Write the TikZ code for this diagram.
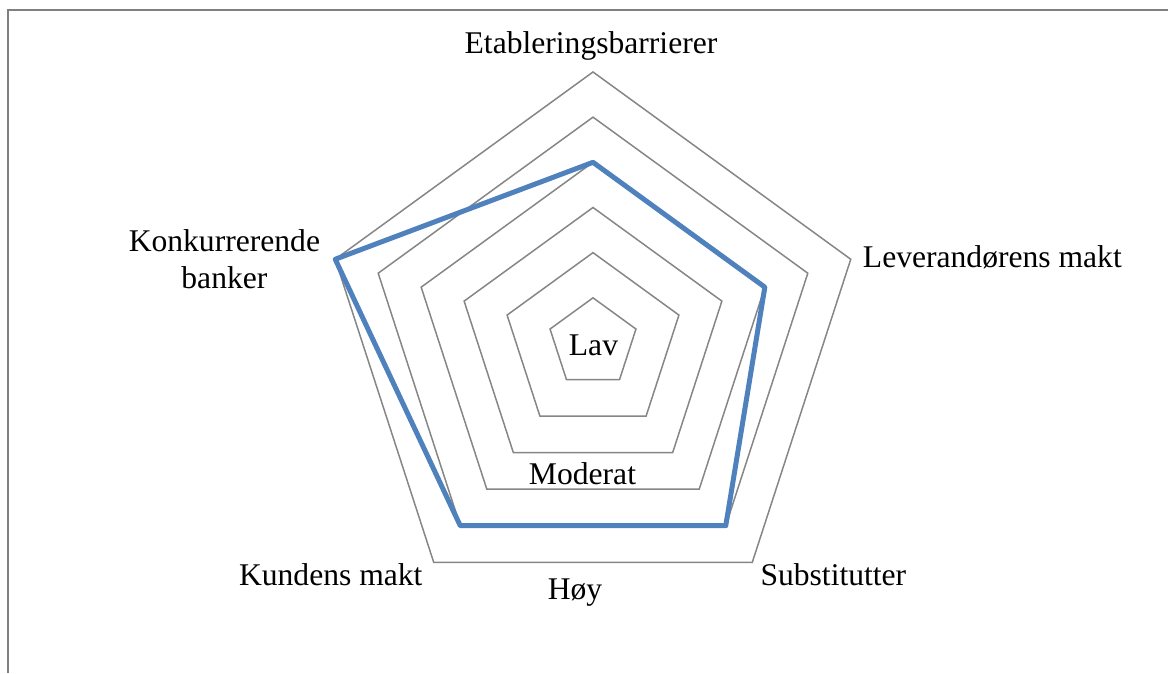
\documentclass[tikz,border=0pt]{standalone}
\usepackage{fontspec}
\setmainfont{Liberation Serif}
\usepackage{tikz}
\usetikzlibrary{positioning, calc}
\definecolor{RingGray}{RGB}{134,134,134}
\definecolor{FrameGray}{RGB}{128,128,128}
\definecolor{SeriesBlue}{RGB}{79,129,189}
\def\ringstep{45.17}
\tikzset{
  ringline/.style={draw=RingGray, line width=1.5pt, line join=miter},
  seriesline/.style={draw=SeriesBlue, line width=5pt, line join=round},
  framebox/.style={draw=FrameGray, line width=2.2pt},
  axlabel/.style={font=\fontsize{31.6}{37}\selectfont, inner sep=0pt, align=center},
  lvllabel/.style={axlabel},
}

\begin{document}
\begin{tikzpicture}[x=1pt, y=1pt]
    \useasboundingbox (0,0) rectangle (1168,673);
    \draw[framebox] (8,0) -- (8,663) -- (1168,663);
    \coordinate (ctr) at (593,330);
    % rings
    \foreach \k in {1,...,6} {
      \draw[ringline] ($(ctr)+(90:\k*\ringstep)$)
        \foreach \a in {18,-54,-126,162} { -- ($(ctr)+(\a:\k*\ringstep)$) } -- cycle;
    }
    % axis ends and data points
    \foreach \n/\a/\v in {etab/90/4, lev/18/4, sub/-54/5, kund/-126/5, konk/162/6} {
      \coordinate (\n) at ($(ctr)+(\a:6*\ringstep)$);
      \coordinate (d-\n) at ($(ctr)+(\a:\v*\ringstep)$);
    }
    \draw[seriesline] (d-etab) -- (d-lev) -- (d-sub) -- (d-kund) -- (d-konk) -- cycle;
    % axis labels
    \node[axlabel] (l-etab) at ($(etab)+(-2,26.5)$) {Etableringsbarrierer};
    \node[axlabel, anchor=west] (l-lev) at ($(lev)+(12,2)$) {Leverandørens makt};
    \node[axlabel, anchor=west] (l-sub) at ($(sub)+(8,-12.5)$) {Substitutter};
    \node[axlabel, anchor=east] (l-kund) at ($(kund)+(-11,-12.5)$) {Kundens makt};
    \node[axlabel, anchor=east] (l-konk) at ($(konk)+(-15,0)$) {Konkurrerende\\banker};
    % level labels
    \node[lvllabel] (lav) at ($(ctr)+(0.5,-2.7)$) {Lav};
    \node[lvllabel] (mod) at ($(ctr)+(-10.5,-130.5)$) {Moderat};
    \node[lvllabel] (hoy) at ($(ctr)+(-18,-250)$) {Høy};
\end{tikzpicture}
\end{document}
